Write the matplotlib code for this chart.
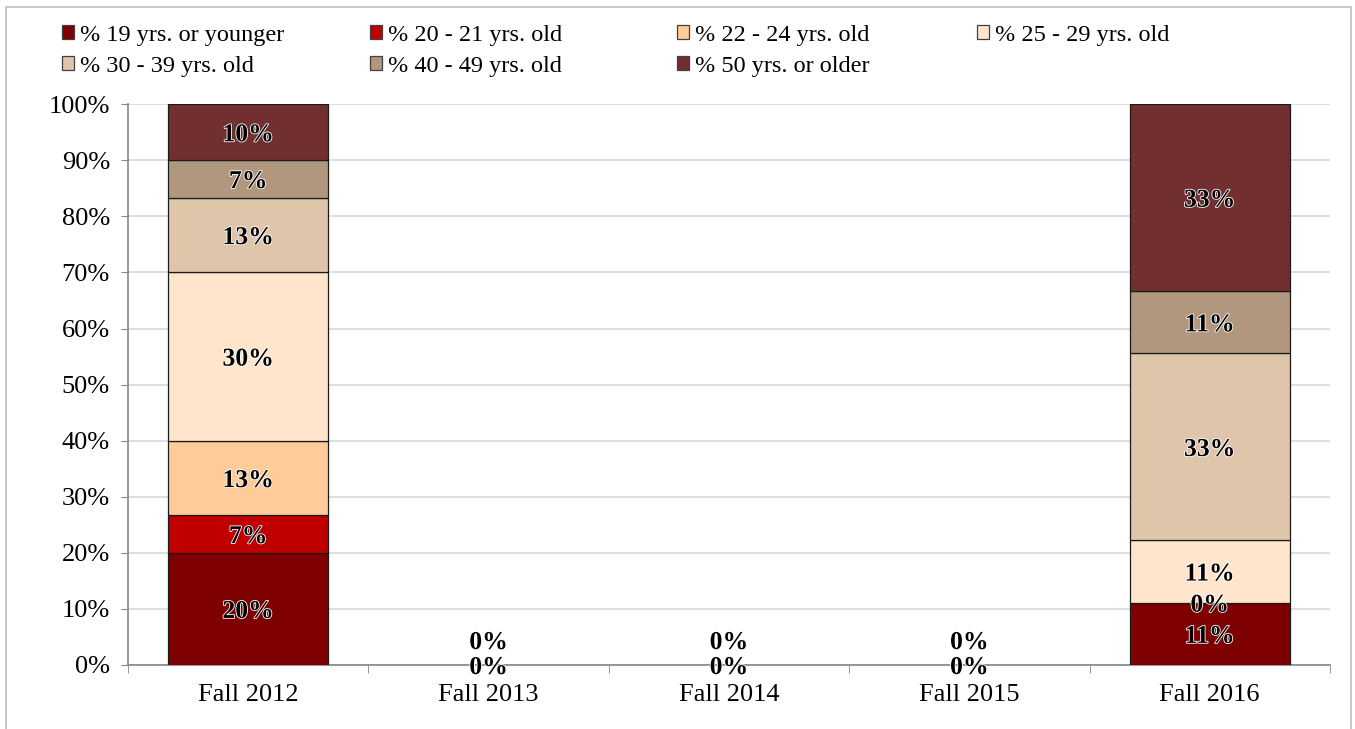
import numpy as np
import matplotlib
matplotlib.use("Agg")
import matplotlib.pyplot as plt
import matplotlib.patheffects as pe
from matplotlib.patches import Rectangle

plt.rcParams['font.family'] = ['Liberation Serif', 'DejaVu Serif']

terms = ["Fall 2012", "Fall 2013", "Fall 2014", "Fall 2015", "Fall 2016"]
series = ["% 19 yrs. or younger", "% 20 - 21 yrs. old", "% 22 - 24 yrs. old",
          "% 25 - 29 yrs. old", "% 30 - 39 yrs. old", "% 40 - 49 yrs. old",
          "% 50 yrs. or older"]
colors = ["#7F0000", "#C00000", "#FFCC99", "#FFE5CC", "#DFC5AA", "#B0977D", "#722F2F"]

# share of students per age group (percent); nan = no value
nan = np.nan
age_19_under = [20.0, 0.0, 0.0, 0.0, 11.11]
age_20_21 = [6.67, 0.0, 0.0, 0.0, 0.0]
age_22_24 = [13.33, nan, nan, nan, nan]
age_25_29 = [30.0, nan, nan, nan, 11.11]
age_30_39 = [13.33, nan, nan, nan, 33.33]
age_40_49 = [6.67, nan, nan, nan, 11.11]
age_50_over = [10.0, nan, nan, nan, 33.34]
values = [age_19_under, age_20_21, age_22_24, age_25_29, age_30_39, age_40_49, age_50_over]

fig = plt.figure(figsize=(13.55, 7.29), dpi=100)
ax = fig.add_axes([0.0945, 0.0878, 0.887, 0.7692])

x = np.arange(len(terms))
bottom = np.zeros(len(terms))
handles = []
used = {}
for name, vals, col in zip(series, values, colors):
    v = np.array(vals, dtype=float)
    h = np.nan_to_num(v)
    lw = [0.9 if hh > 0 else 0 for hh in h]
    bars = ax.bar(x, h, 0.665, bottom=bottom, color=col, edgecolor="#1a1a1a",
                  linewidth=lw, label=name, zorder=3)
    handles.append(bars)
    for i in range(len(terms)):
        if np.isnan(v[i]):
            continue
        yc = bottom[i] + h[i] / 2
        key = (i, round(yc, 2))
        off = 18 * used.get(key, 0)
        used[key] = used.get(key, 0) + 1
        ax.annotate(f"{v[i]:.0f}%", (x[i], yc), xytext=(0, off), textcoords="offset points",
                    ha="center", va="center_baseline", fontsize=18.5, fontweight="bold",
                    color="black", zorder=5,
                    path_effects=[pe.withStroke(linewidth=1.2, foreground="white")])
    bottom += h

ax.set_xlim(-0.5, len(terms) - 0.5)
ax.set_ylim(0, 100)
ax.set_yticks(np.arange(0, 101, 10))
ax.set_yticklabels([f"{t}%" for t in range(0, 101, 10)])
ax.set_xticks(x)
ax.set_xticklabels(terms)
ax.set_xticks(np.arange(-0.5, len(terms), 1), minor=True)
ax.tick_params(axis="x", which="major", length=0, pad=14, labelsize=19)
ax.tick_params(axis="x", which="minor", length=6, color="#868686", direction="out")
ax.tick_params(axis="y", length=5, color="#868686", pad=8, labelsize=19)
ax.yaxis.grid(True, color="#D9D9D9", linewidth=1.2, zorder=0)
ax.set_axisbelow(True)
for s in ["top", "right"]:
    ax.spines[s].set_visible(False)
for s in ["left", "bottom"]:
    ax.spines[s].set_color("#868686")
    ax.spines[s].set_linewidth(1.2)

# legend: four evenly spaced columns, filled row by row
col_x = [0.0458, 0.273, 0.4996, 0.721]
columns = [[0, 4], [1, 5], [2, 6], [3]]
for cx, idx in zip(col_x, columns):
    leg = fig.legend([handles[k] for k in idx], [series[k] for k in idx],
                     loc="upper left", bbox_to_anchor=(cx, 0.966), ncol=1, frameon=False,
                     fontsize=17.5, handlelength=0.5, handleheight=0.5, handletextpad=0.25,
                     labelspacing=0.42, borderaxespad=0, borderpad=0)
    for p in leg.get_patches():
        p.set_edgecolor("#404040")

fig.patches.append(Rectangle((0.0044, -0.05), 0.9926, 1.0404, transform=fig.transFigure,
                             fill=False, edgecolor="#BFBFBF", linewidth=1.2))

fig.savefig("out.png", dpi=100)
